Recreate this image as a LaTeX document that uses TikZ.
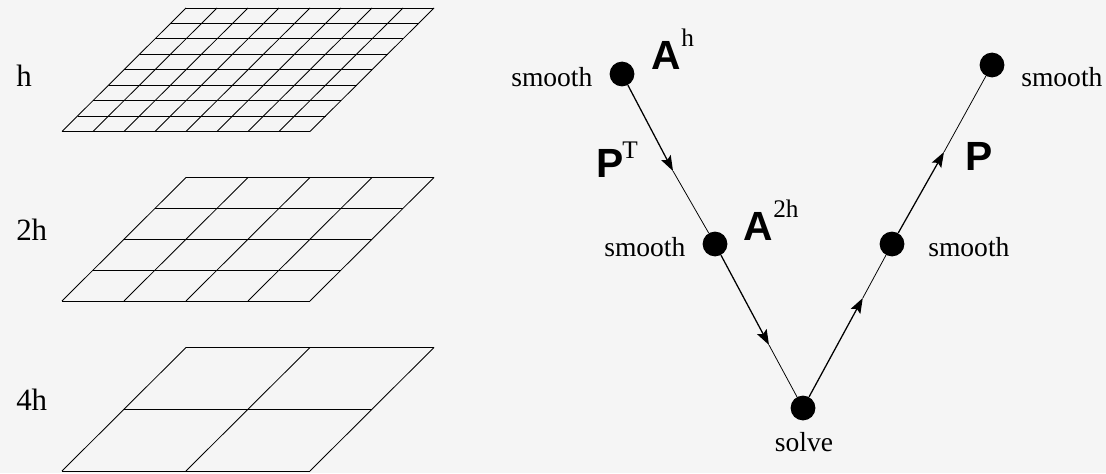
\documentclass[tikz,border=0pt]{standalone}
\usepackage{fontspec}
\setmainfont{Liberation Serif}
\setsansfont{Liberation Sans}
\usetikzlibrary{arrows.meta,positioning}
\definecolor{paper}{HTML}{F5F5F5}
\newcommand{\gridplane}[2]{% bottom edge y, cells per side
  \pgfmathsetmacro{\cellw}{6.2/#2}
  \pgfmathsetmacro{\cellx}{3.1/#2}
  \pgfmathsetmacro{\celly}{3.0875/#2}
  \foreach \i in {0,...,#2} {
    \draw[gridline] ({1.55+\i*\cellw},#1) -- ({4.65+\i*\cellw},{#1+3.0875});
    \draw[gridline] ({1.55+\i*\cellx},{#1+\i*\celly}) -- ({7.75+\i*\cellx},{#1+\i*\celly});
  }
}

\begin{document}
\begin{tikzpicture}[
  gridline/.style={draw,line width=.6pt},
  dot/.style={circle,fill=black,inner sep=0pt,minimum size=.62cm},
  label/.style={anchor=base west,inner sep=0pt,font=\fontsize{19.6}{22}\selectfont},
  level/.style={anchor=base west,inner sep=0pt,font=\fontsize{22}{24}\selectfont},
  sup/.style={anchor=base west,inner sep=0pt,font=\fontsize{18}{20}\selectfont},
  mat/.style={anchor=base west,inner sep=0pt,font=\fontsize{29}{31}\selectfont\sffamily\bfseries},
  headline/.style={-{Stealth[length=.38cm,width=.27cm,inset=.07cm]},line width=.9pt},
  tailline/.style={line width=.55pt},
]
  \fill[paper] (0,0) rectangle (27.65,11.825);

  % grids
  \gridplane{8.5375}{8}
  \gridplane{4.3}{4}
  \gridplane{.05}{2}
  \node[level] (levelh) at (.4,9.675) {h};
  \node[level] (level2h) at (.4,5.825) {2h};
  \node[level] (level4h) at (.4,1.575) {4h};

  % v cycle
  \node[dot] (topL) at (15.55,9.975) {};
  \node[dot] (midL) at (17.875,5.725) {};
  \node[dot] (bottom) at (20.075,1.625) {};
  \node[dot] (midR) at (22.3,5.725) {};
  \node[dot] (topR) at (24.8,10.2) {};

  \coordinate (tipA) at (16.825,7.55);
  \coordinate (tipB) at (19.225,3.2);
  \coordinate (tipC) at (21.57,4.375);
  \coordinate (tipD) at (23.6,8.025);

  \draw[headline] (topL) -- (tipA);
  \draw[tailline] (tipA) -- (midL);
  \draw[headline] (midL) -- (tipB);
  \draw[tailline] (tipB) -- (bottom);
  \draw[headline] (bottom) -- (tipC);
  \draw[tailline] (tipC) -- (midR);
  \draw[headline] (midR) -- (tipD);
  \draw[tailline] (tipD) -- (topR);

  \node[label] (smoothA) at (12.775,9.675) {smooth};
  \node[label] (smoothB) at (15.1,5.425) {smooth};
  \node[label] (smoothC) at (23.2,5.425) {smooth};
  \node[label] (smoothD) at (25.525,9.675) {smooth};
  \node[label,anchor=base] (solve) at (20.1,.55) {solve};

  \node[mat] (Atop) at (16.275,10.075) {A};
  \node[sup] (Atopsup) at (17.025,10.65) {h};
  \node[mat] (Amid) at (18.575,5.825) {A};
  \node[sup] (Amidsup) at (19.325,6.4) {2h};
  \node[mat] (Pleft) at (14.9,7.4) {P};
  \node[sup] (Pleftsup) at (15.55,7.875) {T};
  \node[mat] (Pright) at (24.125,7.575) {P};
\end{tikzpicture}
\end{document}
